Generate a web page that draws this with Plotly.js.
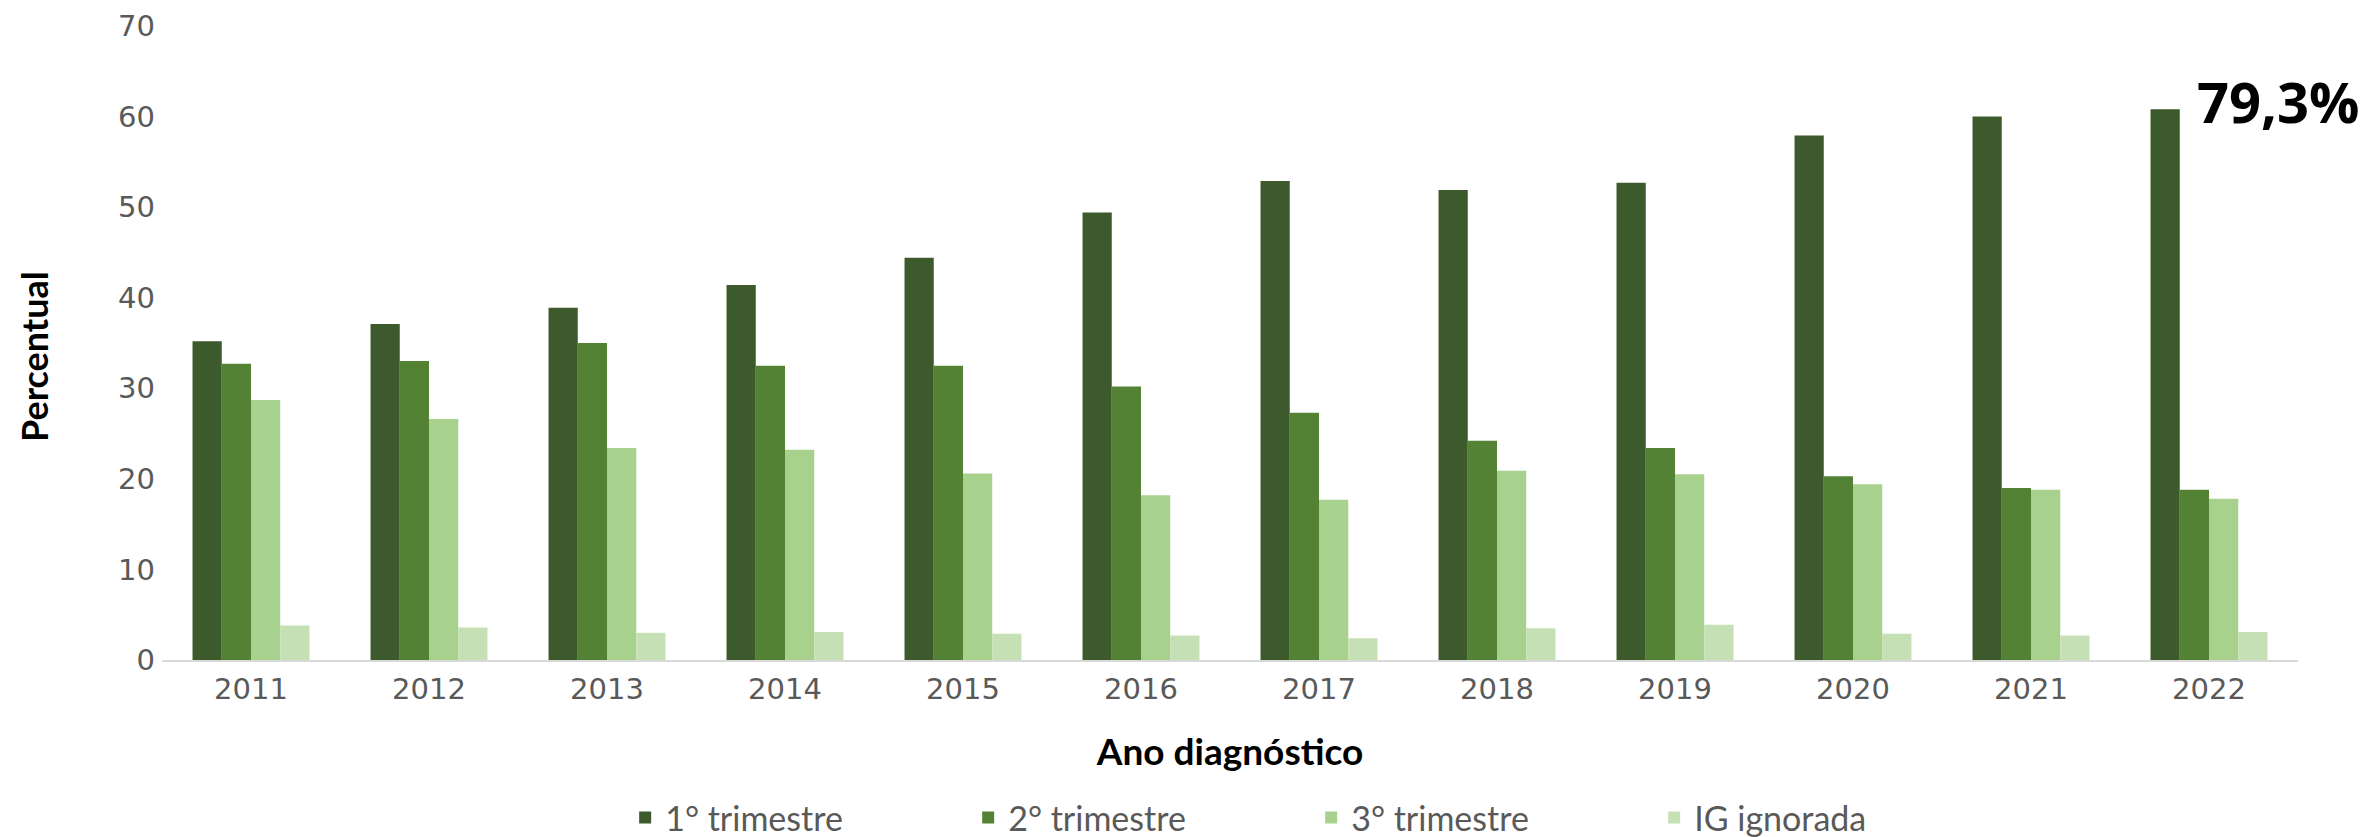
<!DOCTYPE html>
<html>
<head>
<meta charset="utf-8">
<script src="https://cdn.plot.ly/plotly-3.0.1.min.js"></script>
<style>
  html, body { margin: 0; padding: 0; background: #ffffff; }
  #chart { width: 2374px; height: 837px; }
</style>
</head>
<body>
<div id="chart"></div>
<script>
const years = ['2011','2012','2013','2014','2015','2016','2017','2018','2019','2020','2021','2022'];
const seriesNames = ['1° trimestre', '2° trimestre', '3° trimestre', 'IG ignorada'];
const trimestre1 = [35.2, 37.1, 38.9, 41.4, 44.4, 49.4, 52.9, 51.9, 52.7, 57.9, 60.0, 60.8];
const trimestre2 = [32.7, 33.0, 35.0, 32.5, 32.5, 30.2, 27.3, 24.2, 23.4, 20.3, 19.0, 18.8];
const trimestre3 = [28.7, 26.6, 23.4, 23.2, 20.6, 18.2, 17.7, 20.9, 20.5, 19.4, 18.8, 17.8];
const igIgnorada = [3.8, 3.6, 3.0, 3.1, 2.9, 2.7, 2.4, 3.5, 3.9, 2.9, 2.7, 3.1];
const yTicks = [0, 10, 20, 30, 40, 50, 60, 70];
const xTitle = 'Ano diagnóstico';
const yTitle = 'Percentual';
const calloutText = '79,3%';
const calloutValue = 61.7;

const colors = ['#3c5a2b', '#548235', '#a9d18e', '#c5e0b4'];
const seriesValues = [trimestre1, trimestre2, trimestre3, igIgnorada];

const traces = seriesValues.map((vals, i) => ({
  type: 'bar',
  name: seriesNames[i],
  x: years,
  y: vals,
  marker: { color: colors[i], line: { width: 0 } },
  hoverinfo: 'x+y+name'
}));

const layout = {
  width: 2374,
  height: 837,
  margin: { l: 162, r: 76, t: 26, b: 177 },
  paper_bgcolor: '#ffffff',
  plot_bgcolor: '#ffffff',
  barmode: 'group',
  bargap: 0.343,
  bargroupgap: 0,
  showlegend: true,
  legend: {
    orientation: 'h',
    xref: 'paper',
    yref: 'container',
    x: 0.538,
    xanchor: 'center',
    y: 0.0227,
    yanchor: 'middle',
    font: { family: 'Lato, sans-serif', size: 34, color: '#595959' },
    entrywidth: 298,
    entrywidthmode: 'pixels',
    traceorder: 'normal'
  },
  xaxis: {
    type: 'category',
    categoryorder: 'array',
    categoryarray: years,
    range: [-0.5, years.length - 0.5],
    showline: true,
    linecolor: '#d9d9d9',
    linewidth: 2,
    showgrid: false,
    zeroline: false,
    ticks: '',
    ticklabelstandoff: 2,
    tickfont: { family: 'DejaVu Sans, sans-serif', size: 29, color: '#595959' },
    title: {
      text: xTitle,
      font: { family: 'Lato, sans-serif', size: 37, color: '#000000', weight: 'bold' },
      standoff: 34
    }
  },
  yaxis: {
    range: [0, 70],
    tickvals: yTicks,
    ticktext: yTicks.map(String),
    showline: false,
    showgrid: false,
    zeroline: false,
    ticks: '',
    ticklabelstandoff: 6,
    tickfont: { family: 'DejaVu Sans, sans-serif', size: 29, color: '#595959' }
  },
  annotations: [{
    xref: 'paper',
    yref: 'paper',
    x: -0.0599,
    y: 0.478,
    xanchor: 'center',
    yanchor: 'middle',
    textangle: -90,
    text: '<b>' + yTitle + '</b>',
    showarrow: false,
    font: { family: 'Lato, sans-serif', size: 36, color: '#000000' }
  }, {
    xref: 'x',
    yref: 'y',
    x: years.length - 1,
    y: calloutValue,
    xanchor: 'left',
    yanchor: 'middle',
    xshift: -14,
    text: '<b>' + calloutText + '</b>',
    showarrow: false,
    font: { family: 'Open Sans, sans-serif', size: 56, color: '#000000' }
  }]
};

Plotly.newPlot('chart', traces, layout, { displayModeBar: false, staticPlot: true });
</script>
</body>
</html>
